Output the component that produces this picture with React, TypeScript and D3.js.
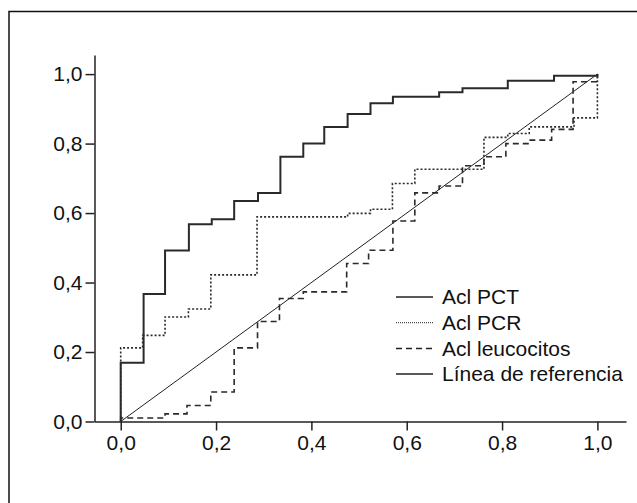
import { useEffect, useRef } from "react";
import * as d3 from "d3";

const WIDTH = 637;
const HEIGHT = 503;

// ROC curves: false positive rate (1 - specificity) / sensitivity at each step
const pctFpr = [0, 0, 0.048, 0.093, 0.143, 0.191, 0.238, 0.288, 0.335, 0.383, 0.427, 0.476, 0.524, 0.571, 0.668, 0.717, 0.812, 0.909, 1.0];
const pctTpr = [0, 0.169, 0.367, 0.492, 0.568, 0.582, 0.635, 0.658, 0.762, 0.8, 0.848, 0.885, 0.916, 0.935, 0.948, 0.959, 0.981, 0.995, 1.0];

const pcrFpr = [0, 0, 0.046, 0.093, 0.142, 0.189, 0.286, 0.476, 0.524, 0.57, 0.617, 0.762, 0.812, 0.857, 0.951, 1.0];
const pcrTpr = [0, 0.212, 0.248, 0.301, 0.324, 0.422, 0.589, 0.599, 0.611, 0.685, 0.726, 0.818, 0.829, 0.848, 0.874, 1.0];

const leuFpr = [0, 0, 0.093, 0.139, 0.189, 0.238, 0.287, 0.333, 0.383, 0.474, 0.52, 0.571, 0.617, 0.668, 0.717, 0.762, 0.808, 0.859, 0.904, 0.949, 1.0];
const leuTpr = [0, 0.01, 0.022, 0.046, 0.085, 0.212, 0.288, 0.354, 0.373, 0.455, 0.493, 0.577, 0.658, 0.678, 0.736, 0.762, 0.8, 0.81, 0.841, 0.978, 1.0];

const refLine = [0, 1];

const tickValues = [0, 0.2, 0.4, 0.6, 0.8, 1.0];

const series = [
  { name: "Acl PCT", fpr: pctFpr, tpr: pctTpr, dash: "none", width: 2 },
  { name: "Acl PCR", fpr: pcrFpr, tpr: pcrTpr, dash: "2,2", width: 1.6 },
  { name: "Acl leucocitos", fpr: leuFpr, tpr: leuTpr, dash: "6,4", width: 1.6 },
];

const legendItems = [
  { name: "Acl PCT", dash: "none", width: 1.5 },
  { name: "Acl PCR", dash: "1,1", width: 1 },
  { name: "Acl leucocitos", dash: "6,4", width: 1.5 },
  { name: "Línea de referencia", dash: "none", width: 1.5 },
];

const FONT = "Liberation Sans, Arial, Helvetica, sans-serif";

export default function App() {
  const xAxisRef = useRef(null);
  const yAxisRef = useRef(null);

  const xScale = d3.scaleLinear().domain([-0.055, 1.06]).range([94.5, 626]);
  const yScale = d3.scaleLinear().domain([0, 1.055]).range([421.5, 55]);

  const fmt = (d) => d.toFixed(1).replace(".", ",");

  useEffect(() => {
    const gx = d3.select(xAxisRef.current);
    gx.selectAll("*").remove();
    gx.call(
      d3.axisBottom(xScale).tickValues(tickValues).tickFormat(fmt).tickSize(9).tickSizeOuter(0).tickPadding(5)
    );
    gx.selectAll("path,line").attr("stroke", "#222").attr("stroke-width", 1.5);
    gx.selectAll("text").attr("font-size", 21).attr("font-family", FONT).attr("fill", "#111");

    const gy = d3.select(yAxisRef.current);
    gy.selectAll("*").remove();
    gy.call(
      d3.axisLeft(yScale).tickValues(tickValues).tickFormat(fmt).tickSize(9).tickSizeOuter(0).tickPadding(3)
    );
    gy.selectAll("path,line").attr("stroke", "#222").attr("stroke-width", 1.5);
    gy.selectAll("text").attr("font-size", 21).attr("font-family", FONT).attr("fill", "#111");
  }, []);

  const lineBuilder = d3
    .line()
    .x((d) => xScale(d[0]))
    .y((d) => yScale(d[1]))
    .curve(d3.curveStepAfter);

  const refPath = d3
    .line()
    .x((d) => xScale(d))
    .y((d) => yScale(d))(refLine);

  return (
    <svg
      width={WIDTH}
      height={HEIGHT}
      style={{ position: "absolute", left: 0, top: 0, background: "#fff" }}
    >
      <rect x={9} y={11.5} width={WIDTH} height={HEIGHT} fill="none" stroke="#111" strokeWidth={1.5} />
      <path d={refPath} fill="none" stroke="#222" strokeWidth={1} />
      {series.map((s) => (
        <path
          key={s.name}
          d={lineBuilder(s.fpr.map((f, i) => [f, s.tpr[i]]))}
          fill="none"
          stroke="#2a2a2a"
          strokeWidth={s.width}
          strokeDasharray={s.dash}
        />
      ))}
      <g ref={xAxisRef} transform={`translate(0,${yScale(0)})`} />
      <g ref={yAxisRef} transform={`translate(${xScale(-0.055)},0)`} />
      {legendItems.map((item, i) => (
        <g key={item.name} transform={`translate(396,${297 + i * 25.7})`}>
          <line x1={0} x2={37} y1={0} y2={0} stroke="#222" strokeWidth={item.width} strokeDasharray={item.dash} />
          <text x={46} y={0} dy="0.35em" fontSize={21} fontFamily={FONT} fill="#111">
            {item.name}
          </text>
        </g>
      ))}
    </svg>
  );
}
